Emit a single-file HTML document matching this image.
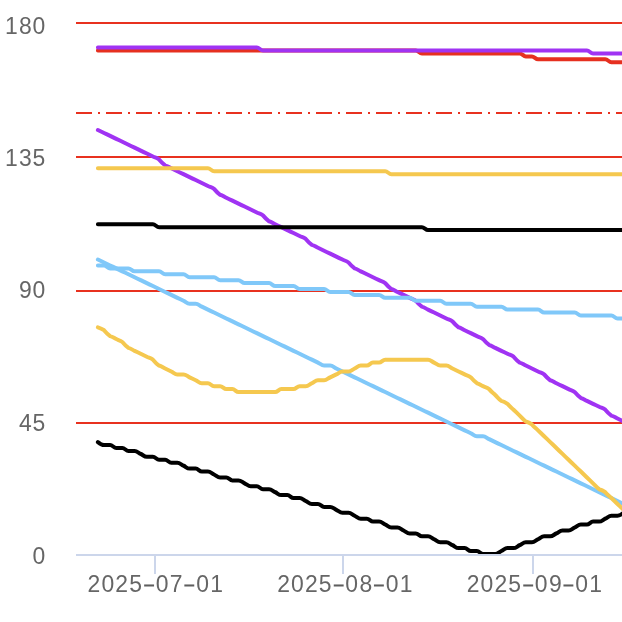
<!DOCTYPE html>
<html><head><meta charset="utf-8"><title>chart</title>
<style>html,body{margin:0;padding:0;background:#fff;}svg{display:block;will-change:transform;}</style></head>
<body>
<svg width="622" height="622" viewBox="0 0 622 622">
<rect width="622" height="622" fill="#ffffff"/>
<defs><clipPath id="c"><rect x="76" y="0" width="560" height="554"/></clipPath></defs>
<path d="M76,23 L640,23" stroke="#e8311f" stroke-width="2" fill="none"/>
<path d="M76,157 L640,157" stroke="#e8311f" stroke-width="2" fill="none"/>
<path d="M76,291 L640,291" stroke="#e8311f" stroke-width="2" fill="none"/>
<path d="M76,423 L640,423" stroke="#e8311f" stroke-width="2" fill="none"/>
<path d="M76,113 L640,113" stroke="#e8311f" stroke-width="2" stroke-dasharray="16,6,2,6" fill="none"/>
<path d="M76,555 L640,555" stroke="#ccd6eb" stroke-width="2" fill="none"/>
<path d="M155,554 L155,574" stroke="#ccd6eb" stroke-width="2" fill="none"/>
<path d="M343,554 L343,574" stroke="#ccd6eb" stroke-width="2" fill="none"/>
<path d="M533,554 L533,574" stroke="#ccd6eb" stroke-width="2" fill="none"/>
<g clip-path="url(#c)" fill="none" stroke-width="4" stroke-linejoin="round" stroke-linecap="round">
<path d="M97.90,50.51C97.90,50.51 101.57,50.51 104.01,50.51C106.46,50.51 107.68,50.51 110.13,50.51C112.57,50.51 113.79,50.51 116.24,50.51C118.68,50.51 119.91,50.51 122.35,50.51C124.80,50.51 126.02,50.51 128.47,50.51C130.91,50.51 132.13,50.51 134.58,50.51C137.02,50.51 138.25,50.51 140.69,50.51C143.14,50.51 144.36,50.51 146.80,50.51C149.25,50.51 150.47,50.51 152.92,50.51C155.36,50.51 156.58,50.51 159.03,50.51C161.48,50.51 162.70,50.51 165.14,50.51C167.59,50.51 168.81,50.51 171.26,50.51C173.70,50.51 174.92,50.51 177.37,50.51C179.81,50.51 181.04,50.51 183.48,50.51C185.93,50.51 187.15,50.51 189.60,50.51C192.04,50.51 193.26,50.51 195.71,50.51C198.15,50.51 199.38,50.51 201.82,50.51C204.27,50.51 205.49,50.51 207.93,50.51C210.38,50.51 211.60,50.51 214.05,50.51C216.49,50.51 217.71,50.51 220.16,50.51C222.61,50.51 223.83,50.51 226.27,50.51C228.72,50.51 229.94,50.51 232.39,50.51C234.83,50.51 236.05,50.51 238.50,50.51C240.94,50.51 242.17,50.51 244.61,50.51C247.06,50.51 248.28,50.51 250.73,50.51C253.17,50.51 254.39,50.51 256.84,50.51C259.28,50.51 260.51,50.51 262.95,50.51C265.40,50.51 266.62,50.51 269.06,50.51C271.51,50.51 272.73,50.51 275.18,50.51C277.62,50.51 278.84,50.51 281.29,50.51C283.74,50.51 284.96,50.51 287.40,50.51C289.85,50.51 291.07,50.51 293.52,50.51C295.96,50.51 297.18,50.51 299.63,50.51C302.07,50.51 303.30,50.51 305.74,50.51C308.19,50.51 309.41,50.51 311.86,50.51C314.30,50.51 315.52,50.51 317.97,50.51C320.41,50.51 321.64,50.51 324.08,50.51C326.53,50.51 327.75,50.51 330.19,50.51C332.64,50.51 333.86,50.51 336.31,50.51C338.75,50.51 339.97,50.51 342.42,50.51C344.87,50.51 346.09,50.51 348.53,50.51C350.98,50.51 352.20,50.51 354.65,50.51C357.09,50.51 358.31,50.51 360.76,50.51C363.20,50.51 364.43,50.51 366.87,50.51C369.32,50.51 370.54,50.51 372.99,50.51C375.43,50.51 376.65,50.51 379.10,50.51C381.54,50.51 382.77,50.51 385.21,50.51C387.66,50.51 388.88,50.51 391.32,50.51C393.77,50.51 394.99,50.51 397.44,50.51C399.88,50.51 401.10,50.51 403.55,50.51C406.00,50.51 407.22,50.51 409.66,50.51C412.11,50.51 413.33,50.51 415.78,50.51C418.22,50.51 419.44,53.45 421.89,53.45C424.33,53.45 425.56,53.45 428.00,53.45C430.45,53.45 431.67,53.45 434.12,53.45C436.56,53.45 437.78,53.45 440.23,53.45C442.67,53.45 443.90,53.45 446.34,53.45C448.79,53.45 450.01,53.45 452.45,53.45C454.90,53.45 456.12,53.45 458.57,53.45C461.01,53.45 462.23,53.45 464.68,53.45C467.13,53.45 468.35,53.45 470.79,53.45C473.24,53.45 474.46,53.45 476.91,53.45C479.35,53.45 480.57,53.45 483.02,53.45C485.46,53.45 486.69,53.45 489.13,53.45C491.58,53.45 492.80,53.45 495.25,53.45C497.69,53.45 498.91,53.45 501.36,53.45C503.80,53.45 505.03,53.45 507.47,53.45C509.92,53.45 511.14,53.45 513.58,53.45C516.03,53.45 517.25,53.45 519.70,53.45C522.14,53.45 523.36,56.40 525.81,56.40C528.26,56.40 529.48,56.40 531.92,56.40C534.37,56.40 535.59,59.34 538.04,59.34C540.48,59.34 541.70,59.34 544.15,59.34C546.59,59.34 547.82,59.34 550.26,59.34C552.71,59.34 553.93,59.34 556.38,59.34C558.82,59.34 560.04,59.34 562.49,59.34C564.93,59.34 566.16,59.34 568.60,59.34C571.05,59.34 572.27,59.34 574.71,59.34C577.16,59.34 578.38,59.34 580.83,59.34C583.27,59.34 584.49,59.34 586.94,59.34C589.39,59.34 590.61,59.34 593.05,59.34C595.50,59.34 596.72,59.34 599.17,59.34C601.61,59.34 602.83,59.34 605.28,59.34C607.72,59.34 608.95,62.29 611.39,62.29C613.84,62.29 615.06,62.29 617.50,62.29C619.95,62.29 623.62,62.29 623.62,62.29" stroke="#e63020"/>
<path d="M97.90,47.56C97.90,47.56 101.57,47.56 104.01,47.56C106.46,47.56 107.68,47.56 110.13,47.56C112.57,47.56 113.79,47.56 116.24,47.56C118.68,47.56 119.91,47.56 122.35,47.56C124.80,47.56 126.02,47.56 128.47,47.56C130.91,47.56 132.13,47.56 134.58,47.56C137.02,47.56 138.25,47.56 140.69,47.56C143.14,47.56 144.36,47.56 146.80,47.56C149.25,47.56 150.47,47.56 152.92,47.56C155.36,47.56 156.58,47.56 159.03,47.56C161.48,47.56 162.70,47.56 165.14,47.56C167.59,47.56 168.81,47.56 171.26,47.56C173.70,47.56 174.92,47.56 177.37,47.56C179.81,47.56 181.04,47.56 183.48,47.56C185.93,47.56 187.15,47.56 189.60,47.56C192.04,47.56 193.26,47.56 195.71,47.56C198.15,47.56 199.38,47.56 201.82,47.56C204.27,47.56 205.49,47.56 207.93,47.56C210.38,47.56 211.60,47.56 214.05,47.56C216.49,47.56 217.71,47.56 220.16,47.56C222.61,47.56 223.83,47.56 226.27,47.56C228.72,47.56 229.94,47.56 232.39,47.56C234.83,47.56 236.05,47.56 238.50,47.56C240.94,47.56 242.17,47.56 244.61,47.56C247.06,47.56 248.28,47.56 250.73,47.56C253.17,47.56 254.39,47.56 256.84,47.56C259.28,47.56 260.51,50.51 262.95,50.51C265.40,50.51 266.62,50.51 269.06,50.51C271.51,50.51 272.73,50.51 275.18,50.51C277.62,50.51 278.84,50.51 281.29,50.51C283.74,50.51 284.96,50.51 287.40,50.51C289.85,50.51 291.07,50.51 293.52,50.51C295.96,50.51 297.18,50.51 299.63,50.51C302.07,50.51 303.30,50.51 305.74,50.51C308.19,50.51 309.41,50.51 311.86,50.51C314.30,50.51 315.52,50.51 317.97,50.51C320.41,50.51 321.64,50.51 324.08,50.51C326.53,50.51 327.75,50.51 330.19,50.51C332.64,50.51 333.86,50.51 336.31,50.51C338.75,50.51 339.97,50.51 342.42,50.51C344.87,50.51 346.09,50.51 348.53,50.51C350.98,50.51 352.20,50.51 354.65,50.51C357.09,50.51 358.31,50.51 360.76,50.51C363.20,50.51 364.43,50.51 366.87,50.51C369.32,50.51 370.54,50.51 372.99,50.51C375.43,50.51 376.65,50.51 379.10,50.51C381.54,50.51 382.77,50.51 385.21,50.51C387.66,50.51 388.88,50.51 391.32,50.51C393.77,50.51 394.99,50.51 397.44,50.51C399.88,50.51 401.10,50.51 403.55,50.51C406.00,50.51 407.22,50.51 409.66,50.51C412.11,50.51 413.33,50.51 415.78,50.51C418.22,50.51 419.44,50.51 421.89,50.51C424.33,50.51 425.56,50.51 428.00,50.51C430.45,50.51 431.67,50.51 434.12,50.51C436.56,50.51 437.78,50.51 440.23,50.51C442.67,50.51 443.90,50.51 446.34,50.51C448.79,50.51 450.01,50.51 452.45,50.51C454.90,50.51 456.12,50.51 458.57,50.51C461.01,50.51 462.23,50.51 464.68,50.51C467.13,50.51 468.35,50.51 470.79,50.51C473.24,50.51 474.46,50.51 476.91,50.51C479.35,50.51 480.57,50.51 483.02,50.51C485.46,50.51 486.69,50.51 489.13,50.51C491.58,50.51 492.80,50.51 495.25,50.51C497.69,50.51 498.91,50.51 501.36,50.51C503.80,50.51 505.03,50.51 507.47,50.51C509.92,50.51 511.14,50.51 513.58,50.51C516.03,50.51 517.25,50.51 519.70,50.51C522.14,50.51 523.36,50.51 525.81,50.51C528.26,50.51 529.48,50.51 531.92,50.51C534.37,50.51 535.59,50.51 538.04,50.51C540.48,50.51 541.70,50.51 544.15,50.51C546.59,50.51 547.82,50.51 550.26,50.51C552.71,50.51 553.93,50.51 556.38,50.51C558.82,50.51 560.04,50.51 562.49,50.51C564.93,50.51 566.16,50.51 568.60,50.51C571.05,50.51 572.27,50.51 574.71,50.51C577.16,50.51 578.38,50.51 580.83,50.51C583.27,50.51 584.49,50.51 586.94,50.51C589.39,50.51 590.61,53.45 593.05,53.45C595.50,53.45 596.72,53.45 599.17,53.45C601.61,53.45 602.83,53.45 605.28,53.45C607.72,53.45 608.95,53.45 611.39,53.45C613.84,53.45 615.06,53.45 617.50,53.45C619.95,53.45 623.62,53.45 623.62,53.45" stroke="#a033f3"/>
<path d="M97.90,130.01C97.90,130.01 101.57,131.77 104.01,132.95C106.46,134.13 107.68,134.72 110.13,135.90C112.57,137.07 113.79,137.66 116.24,138.84C118.68,140.02 119.91,140.61 122.35,141.78C124.80,142.96 126.02,143.55 128.47,144.73C130.91,145.91 132.13,146.50 134.58,147.67C137.02,148.85 138.25,149.44 140.69,150.62C143.14,151.79 144.36,152.38 146.80,153.56C149.25,154.74 150.47,155.33 152.92,156.51C155.36,157.68 156.58,157.68 159.03,159.45C161.48,162.39 162.70,163.57 165.14,165.34C167.59,165.93 168.81,167.11 171.26,168.28C173.70,169.46 174.92,170.05 177.37,171.23C179.81,172.41 181.04,172.99 183.48,174.17C185.93,175.35 187.15,175.94 189.60,177.12C192.04,178.29 193.26,178.88 195.71,180.06C198.15,181.24 199.38,181.83 201.82,183.01C204.27,184.18 205.49,184.77 207.93,185.95C210.38,187.13 211.60,187.13 214.05,188.89C216.49,191.84 217.71,193.02 220.16,194.78C222.61,195.37 223.83,196.55 226.27,197.73C228.72,198.91 229.94,199.49 232.39,200.67C234.83,201.85 236.05,202.44 238.50,203.62C240.94,204.79 242.17,205.38 244.61,206.56C247.06,207.74 248.28,208.33 250.73,209.51C253.17,210.68 254.39,211.27 256.84,212.45C259.28,213.63 260.51,213.63 262.95,215.39C265.40,218.34 266.62,219.52 269.06,221.28C271.51,221.87 272.73,223.05 275.18,224.23C277.62,225.40 278.84,225.99 281.29,227.17C283.74,228.35 284.96,228.94 287.40,230.12C289.85,231.29 291.07,231.88 293.52,233.06C295.96,234.24 297.18,234.83 299.63,236.00C302.07,237.18 303.30,237.18 305.74,238.95C308.19,241.89 309.41,243.07 311.86,244.84C314.30,245.43 315.52,246.60 317.97,247.78C320.41,248.96 321.64,249.55 324.08,250.73C326.53,251.90 327.75,252.49 330.19,253.67C332.64,254.85 333.86,255.44 336.31,256.62C338.75,257.79 339.97,258.38 342.42,259.56C344.87,260.74 346.09,260.74 348.53,262.50C350.98,265.45 352.20,266.63 354.65,268.39C357.09,268.98 358.31,270.16 360.76,271.34C363.20,272.52 364.43,273.10 366.87,274.28C369.32,275.46 370.54,276.05 372.99,277.23C375.43,278.40 376.65,278.99 379.10,280.17C381.54,281.35 382.77,281.35 385.21,283.12C387.66,286.06 388.88,287.24 391.32,289.00C393.77,289.59 394.99,290.77 397.44,291.95C399.88,293.13 401.10,293.72 403.55,294.89C406.00,296.07 407.22,296.66 409.66,297.84C412.11,299.01 413.33,299.01 415.78,300.78C418.22,303.73 419.44,304.90 421.89,306.67C424.33,307.26 425.56,308.44 428.00,309.61C430.45,310.79 431.67,311.38 434.12,312.56C436.56,313.74 437.78,314.33 440.23,315.50C442.67,316.68 443.90,317.27 446.34,318.45C448.79,319.63 450.01,319.63 452.45,321.39C454.90,324.34 456.12,325.51 458.57,327.28C461.01,327.87 462.23,329.05 464.68,330.23C467.13,331.40 468.35,331.99 470.79,333.17C473.24,334.35 474.46,334.94 476.91,336.11C479.35,337.29 480.57,337.29 483.02,339.06C485.46,342.00 486.69,343.18 489.13,344.95C491.58,345.54 492.80,346.71 495.25,347.89C497.69,349.07 498.91,349.66 501.36,350.84C503.80,352.01 505.03,352.60 507.47,353.78C509.92,354.96 511.14,354.96 513.58,356.73C516.03,359.67 517.25,360.85 519.70,362.61C522.14,363.20 523.36,364.38 525.81,365.56C528.26,366.74 529.48,367.33 531.92,368.50C534.37,369.68 535.59,370.27 538.04,371.45C540.48,372.62 541.70,372.62 544.15,374.39C546.59,377.34 547.82,378.51 550.26,380.28C552.71,380.87 553.93,382.05 556.38,383.22C558.82,384.40 560.04,384.99 562.49,386.17C564.93,387.35 566.16,387.94 568.60,389.11C571.05,390.29 572.27,390.29 574.71,392.06C577.16,395.00 578.38,396.18 580.83,397.95C583.27,398.54 584.49,399.71 586.94,400.89C589.39,402.07 590.61,402.66 593.05,403.84C595.50,405.01 596.72,405.60 599.17,406.78C601.61,407.96 602.83,407.96 605.28,409.72C607.72,412.67 608.95,413.85 611.39,415.61C613.84,416.20 615.06,417.38 617.50,418.56C619.95,419.74 623.62,421.50 623.62,421.50" stroke="#a033f3"/>
<path d="M97.90,265.45C97.90,265.45 101.57,265.45 104.01,265.45C106.46,265.45 107.68,268.39 110.13,268.39C112.57,268.39 113.79,268.39 116.24,268.39C118.68,268.39 119.91,268.39 122.35,268.39C124.80,268.39 126.02,268.39 128.47,268.39C130.91,268.39 132.13,271.34 134.58,271.34C137.02,271.34 138.25,271.34 140.69,271.34C143.14,271.34 144.36,271.34 146.80,271.34C149.25,271.34 150.47,271.34 152.92,271.34C155.36,271.34 156.58,271.34 159.03,271.34C161.48,271.34 162.70,274.28 165.14,274.28C167.59,274.28 168.81,274.28 171.26,274.28C173.70,274.28 174.92,274.28 177.37,274.28C179.81,274.28 181.04,274.28 183.48,274.28C185.93,274.28 187.15,277.23 189.60,277.23C192.04,277.23 193.26,277.23 195.71,277.23C198.15,277.23 199.38,277.23 201.82,277.23C204.27,277.23 205.49,277.23 207.93,277.23C210.38,277.23 211.60,277.23 214.05,277.23C216.49,277.23 217.71,280.17 220.16,280.17C222.61,280.17 223.83,280.17 226.27,280.17C228.72,280.17 229.94,280.17 232.39,280.17C234.83,280.17 236.05,280.17 238.50,280.17C240.94,280.17 242.17,283.12 244.61,283.12C247.06,283.12 248.28,283.12 250.73,283.12C253.17,283.12 254.39,283.12 256.84,283.12C259.28,283.12 260.51,283.12 262.95,283.12C265.40,283.12 266.62,283.12 269.06,283.12C271.51,283.12 272.73,286.06 275.18,286.06C277.62,286.06 278.84,286.06 281.29,286.06C283.74,286.06 284.96,286.06 287.40,286.06C289.85,286.06 291.07,286.06 293.52,286.06C295.96,286.06 297.18,289.00 299.63,289.00C302.07,289.00 303.30,289.00 305.74,289.00C308.19,289.00 309.41,289.00 311.86,289.00C314.30,289.00 315.52,289.00 317.97,289.00C320.41,289.00 321.64,289.00 324.08,289.00C326.53,289.00 327.75,291.95 330.19,291.95C332.64,291.95 333.86,291.95 336.31,291.95C338.75,291.95 339.97,291.95 342.42,291.95C344.87,291.95 346.09,291.95 348.53,291.95C350.98,291.95 352.20,294.89 354.65,294.89C357.09,294.89 358.31,294.89 360.76,294.89C363.20,294.89 364.43,294.89 366.87,294.89C369.32,294.89 370.54,294.89 372.99,294.89C375.43,294.89 376.65,294.89 379.10,294.89C381.54,294.89 382.77,297.84 385.21,297.84C387.66,297.84 388.88,297.84 391.32,297.84C393.77,297.84 394.99,297.84 397.44,297.84C399.88,297.84 401.10,297.84 403.55,297.84C406.00,297.84 407.22,297.84 409.66,297.84C412.11,297.84 413.33,300.78 415.78,300.78C418.22,300.78 419.44,300.78 421.89,300.78C424.33,300.78 425.56,300.78 428.00,300.78C430.45,300.78 431.67,300.78 434.12,300.78C436.56,300.78 437.78,300.78 440.23,300.78C442.67,300.78 443.90,303.73 446.34,303.73C448.79,303.73 450.01,303.73 452.45,303.73C454.90,303.73 456.12,303.73 458.57,303.73C461.01,303.73 462.23,303.73 464.68,303.73C467.13,303.73 468.35,303.73 470.79,303.73C473.24,303.73 474.46,306.67 476.91,306.67C479.35,306.67 480.57,306.67 483.02,306.67C485.46,306.67 486.69,306.67 489.13,306.67C491.58,306.67 492.80,306.67 495.25,306.67C497.69,306.67 498.91,306.67 501.36,306.67C503.80,306.67 505.03,309.61 507.47,309.61C509.92,309.61 511.14,309.61 513.58,309.61C516.03,309.61 517.25,309.61 519.70,309.61C522.14,309.61 523.36,309.61 525.81,309.61C528.26,309.61 529.48,309.61 531.92,309.61C534.37,309.61 535.59,309.61 538.04,309.61C540.48,309.61 541.70,312.56 544.15,312.56C546.59,312.56 547.82,312.56 550.26,312.56C552.71,312.56 553.93,312.56 556.38,312.56C558.82,312.56 560.04,312.56 562.49,312.56C564.93,312.56 566.16,312.56 568.60,312.56C571.05,312.56 572.27,312.56 574.71,312.56C577.16,312.56 578.38,315.50 580.83,315.50C583.27,315.50 584.49,315.50 586.94,315.50C589.39,315.50 590.61,315.50 593.05,315.50C595.50,315.50 596.72,315.50 599.17,315.50C601.61,315.50 602.83,315.50 605.28,315.50C607.72,315.50 608.95,315.50 611.39,315.50C613.84,315.50 615.06,318.45 617.50,318.45C619.95,318.45 623.62,318.45 623.62,318.45" stroke="#80c8f9"/>
<path d="M97.90,259.56C97.90,259.56 101.57,261.33 104.01,262.50C106.46,263.68 107.68,264.27 110.13,265.45C112.57,266.63 113.79,267.22 116.24,268.39C118.68,269.57 119.91,270.16 122.35,271.34C124.80,272.52 126.02,273.10 128.47,274.28C130.91,275.46 132.13,276.05 134.58,277.23C137.02,278.40 138.25,278.99 140.69,280.17C143.14,281.35 144.36,281.94 146.80,283.12C149.25,284.29 150.47,284.88 152.92,286.06C155.36,287.24 156.58,287.83 159.03,289.00C161.48,290.18 162.70,290.77 165.14,291.95C167.59,293.13 168.81,293.72 171.26,294.89C173.70,296.07 174.92,296.66 177.37,297.84C179.81,299.01 181.04,299.60 183.48,300.78C185.93,301.96 187.15,303.73 189.60,303.73C192.04,303.73 193.26,303.73 195.71,303.73C198.15,303.73 199.38,305.49 201.82,306.67C204.27,307.85 205.49,308.44 207.93,309.61C210.38,310.79 211.60,311.38 214.05,312.56C216.49,313.74 217.71,314.33 220.16,315.50C222.61,316.68 223.83,317.27 226.27,318.45C228.72,319.63 229.94,320.21 232.39,321.39C234.83,322.57 236.05,323.16 238.50,324.34C240.94,325.51 242.17,326.10 244.61,327.28C247.06,328.46 248.28,329.05 250.73,330.23C253.17,331.40 254.39,331.99 256.84,333.17C259.28,334.35 260.51,334.94 262.95,336.11C265.40,337.29 266.62,337.88 269.06,339.06C271.51,340.24 272.73,340.83 275.18,342.00C277.62,343.18 278.84,343.77 281.29,344.95C283.74,346.13 284.96,346.71 287.40,347.89C289.85,349.07 291.07,349.66 293.52,350.84C295.96,352.01 297.18,352.60 299.63,353.78C302.07,354.96 303.30,355.55 305.74,356.73C308.19,357.90 309.41,358.49 311.86,359.67C314.30,360.85 315.52,361.44 317.97,362.61C320.41,363.79 321.64,365.56 324.08,365.56C326.53,365.56 327.75,365.56 330.19,365.56C332.64,365.56 333.86,367.33 336.31,368.50C338.75,369.68 339.97,370.27 342.42,371.45C344.87,372.62 346.09,373.21 348.53,374.39C350.98,375.57 352.20,376.16 354.65,377.34C357.09,378.51 358.31,379.10 360.76,380.28C363.20,381.46 364.43,382.05 366.87,383.22C369.32,384.40 370.54,384.99 372.99,386.17C375.43,387.35 376.65,387.94 379.10,389.11C381.54,390.29 382.77,390.88 385.21,392.06C387.66,393.24 388.88,393.82 391.32,395.00C393.77,396.18 394.99,396.77 397.44,397.95C399.88,399.12 401.10,399.71 403.55,400.89C406.00,402.07 407.22,402.66 409.66,403.84C412.11,405.01 413.33,405.60 415.78,406.78C418.22,407.96 419.44,408.55 421.89,409.72C424.33,410.90 425.56,411.49 428.00,412.67C430.45,413.85 431.67,414.44 434.12,415.61C436.56,416.79 437.78,417.38 440.23,418.56C442.67,419.74 443.90,420.32 446.34,421.50C448.79,422.68 450.01,423.27 452.45,424.45C454.90,425.62 456.12,426.21 458.57,427.39C461.01,428.57 462.23,429.16 464.68,430.34C467.13,431.51 468.35,432.10 470.79,433.28C473.24,434.46 474.46,436.22 476.91,436.22C479.35,436.22 480.57,436.22 483.02,436.22C485.46,436.22 486.69,437.99 489.13,439.17C491.58,440.35 492.80,440.94 495.25,442.11C497.69,443.29 498.91,443.88 501.36,445.06C503.80,446.23 505.03,446.82 507.47,448.00C509.92,449.18 511.14,449.77 513.58,450.95C516.03,452.12 517.25,452.71 519.70,453.89C522.14,455.07 523.36,455.66 525.81,456.83C528.26,458.01 529.48,458.60 531.92,459.78C534.37,460.96 535.59,461.55 538.04,462.72C540.48,463.90 541.70,464.49 544.15,465.67C546.59,466.85 547.82,467.43 550.26,468.61C552.71,469.79 553.93,470.38 556.38,471.56C558.82,472.73 560.04,473.32 562.49,474.50C564.93,475.68 566.16,476.27 568.60,477.45C571.05,478.62 572.27,479.21 574.71,480.39C577.16,481.57 578.38,482.16 580.83,483.33C583.27,484.51 584.49,485.10 586.94,486.28C589.39,487.46 590.61,488.05 593.05,489.22C595.50,490.40 596.72,490.99 599.17,492.17C601.61,493.35 602.83,493.93 605.28,495.11C607.72,496.29 608.95,496.88 611.39,498.06C613.84,499.23 615.06,499.82 617.50,501.00C619.95,502.18 623.62,503.95 623.62,503.95" stroke="#80c8f9"/>
<path d="M97.90,168.28C97.90,168.28 101.57,168.28 104.01,168.28C106.46,168.28 107.68,168.28 110.13,168.28C112.57,168.28 113.79,168.28 116.24,168.28C118.68,168.28 119.91,168.28 122.35,168.28C124.80,168.28 126.02,168.28 128.47,168.28C130.91,168.28 132.13,168.28 134.58,168.28C137.02,168.28 138.25,168.28 140.69,168.28C143.14,168.28 144.36,168.28 146.80,168.28C149.25,168.28 150.47,168.28 152.92,168.28C155.36,168.28 156.58,168.28 159.03,168.28C161.48,168.28 162.70,168.28 165.14,168.28C167.59,168.28 168.81,168.28 171.26,168.28C173.70,168.28 174.92,168.28 177.37,168.28C179.81,168.28 181.04,168.28 183.48,168.28C185.93,168.28 187.15,168.28 189.60,168.28C192.04,168.28 193.26,168.28 195.71,168.28C198.15,168.28 199.38,168.28 201.82,168.28C204.27,168.28 205.49,168.28 207.93,168.28C210.38,168.28 211.60,171.23 214.05,171.23C216.49,171.23 217.71,171.23 220.16,171.23C222.61,171.23 223.83,171.23 226.27,171.23C228.72,171.23 229.94,171.23 232.39,171.23C234.83,171.23 236.05,171.23 238.50,171.23C240.94,171.23 242.17,171.23 244.61,171.23C247.06,171.23 248.28,171.23 250.73,171.23C253.17,171.23 254.39,171.23 256.84,171.23C259.28,171.23 260.51,171.23 262.95,171.23C265.40,171.23 266.62,171.23 269.06,171.23C271.51,171.23 272.73,171.23 275.18,171.23C277.62,171.23 278.84,171.23 281.29,171.23C283.74,171.23 284.96,171.23 287.40,171.23C289.85,171.23 291.07,171.23 293.52,171.23C295.96,171.23 297.18,171.23 299.63,171.23C302.07,171.23 303.30,171.23 305.74,171.23C308.19,171.23 309.41,171.23 311.86,171.23C314.30,171.23 315.52,171.23 317.97,171.23C320.41,171.23 321.64,171.23 324.08,171.23C326.53,171.23 327.75,171.23 330.19,171.23C332.64,171.23 333.86,171.23 336.31,171.23C338.75,171.23 339.97,171.23 342.42,171.23C344.87,171.23 346.09,171.23 348.53,171.23C350.98,171.23 352.20,171.23 354.65,171.23C357.09,171.23 358.31,171.23 360.76,171.23C363.20,171.23 364.43,171.23 366.87,171.23C369.32,171.23 370.54,171.23 372.99,171.23C375.43,171.23 376.65,171.23 379.10,171.23C381.54,171.23 382.77,171.23 385.21,171.23C387.66,171.23 388.88,174.17 391.32,174.17C393.77,174.17 394.99,174.17 397.44,174.17C399.88,174.17 401.10,174.17 403.55,174.17C406.00,174.17 407.22,174.17 409.66,174.17C412.11,174.17 413.33,174.17 415.78,174.17C418.22,174.17 419.44,174.17 421.89,174.17C424.33,174.17 425.56,174.17 428.00,174.17C430.45,174.17 431.67,174.17 434.12,174.17C436.56,174.17 437.78,174.17 440.23,174.17C442.67,174.17 443.90,174.17 446.34,174.17C448.79,174.17 450.01,174.17 452.45,174.17C454.90,174.17 456.12,174.17 458.57,174.17C461.01,174.17 462.23,174.17 464.68,174.17C467.13,174.17 468.35,174.17 470.79,174.17C473.24,174.17 474.46,174.17 476.91,174.17C479.35,174.17 480.57,174.17 483.02,174.17C485.46,174.17 486.69,174.17 489.13,174.17C491.58,174.17 492.80,174.17 495.25,174.17C497.69,174.17 498.91,174.17 501.36,174.17C503.80,174.17 505.03,174.17 507.47,174.17C509.92,174.17 511.14,174.17 513.58,174.17C516.03,174.17 517.25,174.17 519.70,174.17C522.14,174.17 523.36,174.17 525.81,174.17C528.26,174.17 529.48,174.17 531.92,174.17C534.37,174.17 535.59,174.17 538.04,174.17C540.48,174.17 541.70,174.17 544.15,174.17C546.59,174.17 547.82,174.17 550.26,174.17C552.71,174.17 553.93,174.17 556.38,174.17C558.82,174.17 560.04,174.17 562.49,174.17C564.93,174.17 566.16,174.17 568.60,174.17C571.05,174.17 572.27,174.17 574.71,174.17C577.16,174.17 578.38,174.17 580.83,174.17C583.27,174.17 584.49,174.17 586.94,174.17C589.39,174.17 590.61,174.17 593.05,174.17C595.50,174.17 596.72,174.17 599.17,174.17C601.61,174.17 602.83,174.17 605.28,174.17C607.72,174.17 608.95,174.17 611.39,174.17C613.84,174.17 615.06,174.17 617.50,174.17C619.95,174.17 623.62,174.17 623.62,174.17" stroke="#f5c84f"/>
<path d="M97.90,327.28C97.90,327.28 101.57,328.46 104.01,330.23C106.46,333.17 107.68,334.35 110.13,336.11C112.57,336.70 113.79,337.88 116.24,339.06C118.68,340.24 119.91,340.24 122.35,342.00C124.80,344.95 126.02,346.13 128.47,347.89C130.91,348.48 132.13,349.66 134.58,350.84C137.02,352.01 138.25,352.60 140.69,353.78C143.14,354.96 144.36,355.55 146.80,356.73C149.25,357.90 150.47,357.90 152.92,359.67C155.36,362.61 156.58,363.79 159.03,365.56C161.48,366.15 162.70,367.33 165.14,368.50C167.59,369.68 168.81,370.27 171.26,371.45C173.70,372.62 174.92,374.39 177.37,374.39C179.81,374.39 181.04,374.39 183.48,374.39C185.93,374.39 187.15,376.16 189.60,377.34C192.04,378.51 193.26,379.10 195.71,380.28C198.15,381.46 199.38,383.22 201.82,383.22C204.27,383.22 205.49,383.22 207.93,383.22C210.38,383.22 211.60,386.17 214.05,386.17C216.49,386.17 217.71,386.17 220.16,386.17C222.61,386.17 223.83,389.11 226.27,389.11C228.72,389.11 229.94,389.11 232.39,389.11C234.83,389.11 236.05,392.06 238.50,392.06C240.94,392.06 242.17,392.06 244.61,392.06C247.06,392.06 248.28,392.06 250.73,392.06C253.17,392.06 254.39,392.06 256.84,392.06C259.28,392.06 260.51,392.06 262.95,392.06C265.40,392.06 266.62,392.06 269.06,392.06C271.51,392.06 272.73,392.06 275.18,392.06C277.62,392.06 278.84,389.11 281.29,389.11C283.74,389.11 284.96,389.11 287.40,389.11C289.85,389.11 291.07,389.11 293.52,389.11C295.96,389.11 297.18,386.17 299.63,386.17C302.07,386.17 303.30,386.17 305.74,386.17C308.19,386.17 309.41,384.40 311.86,383.22C314.30,382.05 315.52,380.28 317.97,380.28C320.41,380.28 321.64,380.28 324.08,380.28C326.53,380.28 327.75,378.51 330.19,377.34C332.64,376.16 333.86,375.57 336.31,374.39C338.75,373.21 339.97,371.45 342.42,371.45C344.87,371.45 346.09,371.45 348.53,371.45C350.98,371.45 352.20,369.68 354.65,368.50C357.09,367.33 358.31,365.56 360.76,365.56C363.20,365.56 364.43,365.56 366.87,365.56C369.32,365.56 370.54,362.61 372.99,362.61C375.43,362.61 376.65,362.61 379.10,362.61C381.54,362.61 382.77,359.67 385.21,359.67C387.66,359.67 388.88,359.67 391.32,359.67C393.77,359.67 394.99,359.67 397.44,359.67C399.88,359.67 401.10,359.67 403.55,359.67C406.00,359.67 407.22,359.67 409.66,359.67C412.11,359.67 413.33,359.67 415.78,359.67C418.22,359.67 419.44,359.67 421.89,359.67C424.33,359.67 425.56,359.67 428.00,359.67C430.45,359.67 431.67,361.44 434.12,362.61C436.56,363.79 437.78,365.56 440.23,365.56C442.67,365.56 443.90,365.56 446.34,365.56C448.79,365.56 450.01,367.33 452.45,368.50C454.90,369.68 456.12,370.27 458.57,371.45C461.01,372.62 462.23,373.21 464.68,374.39C467.13,375.57 468.35,375.57 470.79,377.34C473.24,380.28 474.46,381.46 476.91,383.22C479.35,383.81 480.57,384.99 483.02,386.17C485.46,387.35 486.69,387.35 489.13,389.11C491.58,392.06 492.80,392.65 495.25,395.00C497.69,397.36 498.91,399.12 501.36,400.89C503.80,401.48 505.03,402.07 507.47,403.84C509.92,406.78 511.14,407.37 513.58,409.72C516.03,412.08 517.25,413.26 519.70,415.61C522.14,417.97 523.36,419.74 525.81,421.50C528.26,422.09 529.48,422.68 531.92,424.45C534.37,427.39 535.59,427.98 538.04,430.34C540.48,432.69 541.70,433.87 544.15,436.22C546.59,438.58 547.82,439.76 550.26,442.11C552.71,444.47 553.93,445.65 556.38,448.00C558.82,450.36 560.04,451.53 562.49,453.89C564.93,456.25 566.16,457.42 568.60,459.78C571.05,462.13 572.27,463.31 574.71,465.67C577.16,468.02 578.38,469.20 580.83,471.56C583.27,473.91 584.49,475.09 586.94,477.45C589.39,479.80 590.61,480.98 593.05,483.33C595.50,485.69 596.72,487.46 599.17,489.22C601.61,489.81 602.83,490.40 605.28,492.17C607.72,495.11 608.95,495.70 611.39,498.06C613.84,500.41 615.06,501.59 617.50,503.95C619.95,506.30 623.62,509.83 623.62,509.83" stroke="#f5c84f"/>
<path d="M97.90,224.23C97.90,224.23 101.57,224.23 104.01,224.23C106.46,224.23 107.68,224.23 110.13,224.23C112.57,224.23 113.79,224.23 116.24,224.23C118.68,224.23 119.91,224.23 122.35,224.23C124.80,224.23 126.02,224.23 128.47,224.23C130.91,224.23 132.13,224.23 134.58,224.23C137.02,224.23 138.25,224.23 140.69,224.23C143.14,224.23 144.36,224.23 146.80,224.23C149.25,224.23 150.47,224.23 152.92,224.23C155.36,224.23 156.58,227.17 159.03,227.17C161.48,227.17 162.70,227.17 165.14,227.17C167.59,227.17 168.81,227.17 171.26,227.17C173.70,227.17 174.92,227.17 177.37,227.17C179.81,227.17 181.04,227.17 183.48,227.17C185.93,227.17 187.15,227.17 189.60,227.17C192.04,227.17 193.26,227.17 195.71,227.17C198.15,227.17 199.38,227.17 201.82,227.17C204.27,227.17 205.49,227.17 207.93,227.17C210.38,227.17 211.60,227.17 214.05,227.17C216.49,227.17 217.71,227.17 220.16,227.17C222.61,227.17 223.83,227.17 226.27,227.17C228.72,227.17 229.94,227.17 232.39,227.17C234.83,227.17 236.05,227.17 238.50,227.17C240.94,227.17 242.17,227.17 244.61,227.17C247.06,227.17 248.28,227.17 250.73,227.17C253.17,227.17 254.39,227.17 256.84,227.17C259.28,227.17 260.51,227.17 262.95,227.17C265.40,227.17 266.62,227.17 269.06,227.17C271.51,227.17 272.73,227.17 275.18,227.17C277.62,227.17 278.84,227.17 281.29,227.17C283.74,227.17 284.96,227.17 287.40,227.17C289.85,227.17 291.07,227.17 293.52,227.17C295.96,227.17 297.18,227.17 299.63,227.17C302.07,227.17 303.30,227.17 305.74,227.17C308.19,227.17 309.41,227.17 311.86,227.17C314.30,227.17 315.52,227.17 317.97,227.17C320.41,227.17 321.64,227.17 324.08,227.17C326.53,227.17 327.75,227.17 330.19,227.17C332.64,227.17 333.86,227.17 336.31,227.17C338.75,227.17 339.97,227.17 342.42,227.17C344.87,227.17 346.09,227.17 348.53,227.17C350.98,227.17 352.20,227.17 354.65,227.17C357.09,227.17 358.31,227.17 360.76,227.17C363.20,227.17 364.43,227.17 366.87,227.17C369.32,227.17 370.54,227.17 372.99,227.17C375.43,227.17 376.65,227.17 379.10,227.17C381.54,227.17 382.77,227.17 385.21,227.17C387.66,227.17 388.88,227.17 391.32,227.17C393.77,227.17 394.99,227.17 397.44,227.17C399.88,227.17 401.10,227.17 403.55,227.17C406.00,227.17 407.22,227.17 409.66,227.17C412.11,227.17 413.33,227.17 415.78,227.17C418.22,227.17 419.44,227.17 421.89,227.17C424.33,227.17 425.56,230.12 428.00,230.12C430.45,230.12 431.67,230.12 434.12,230.12C436.56,230.12 437.78,230.12 440.23,230.12C442.67,230.12 443.90,230.12 446.34,230.12C448.79,230.12 450.01,230.12 452.45,230.12C454.90,230.12 456.12,230.12 458.57,230.12C461.01,230.12 462.23,230.12 464.68,230.12C467.13,230.12 468.35,230.12 470.79,230.12C473.24,230.12 474.46,230.12 476.91,230.12C479.35,230.12 480.57,230.12 483.02,230.12C485.46,230.12 486.69,230.12 489.13,230.12C491.58,230.12 492.80,230.12 495.25,230.12C497.69,230.12 498.91,230.12 501.36,230.12C503.80,230.12 505.03,230.12 507.47,230.12C509.92,230.12 511.14,230.12 513.58,230.12C516.03,230.12 517.25,230.12 519.70,230.12C522.14,230.12 523.36,230.12 525.81,230.12C528.26,230.12 529.48,230.12 531.92,230.12C534.37,230.12 535.59,230.12 538.04,230.12C540.48,230.12 541.70,230.12 544.15,230.12C546.59,230.12 547.82,230.12 550.26,230.12C552.71,230.12 553.93,230.12 556.38,230.12C558.82,230.12 560.04,230.12 562.49,230.12C564.93,230.12 566.16,230.12 568.60,230.12C571.05,230.12 572.27,230.12 574.71,230.12C577.16,230.12 578.38,230.12 580.83,230.12C583.27,230.12 584.49,230.12 586.94,230.12C589.39,230.12 590.61,230.12 593.05,230.12C595.50,230.12 596.72,230.12 599.17,230.12C601.61,230.12 602.83,230.12 605.28,230.12C607.72,230.12 608.95,230.12 611.39,230.12C613.84,230.12 615.06,230.12 617.50,230.12C619.95,230.12 623.62,230.12 623.62,230.12" stroke="#000000"/>
<path d="M97.90,442.11C97.90,442.11 101.57,445.06 104.01,445.06C106.46,445.06 107.68,445.06 110.13,445.06C112.57,445.06 113.79,448.00 116.24,448.00C118.68,448.00 119.91,448.00 122.35,448.00C124.80,448.00 126.02,450.95 128.47,450.95C130.91,450.95 132.13,450.95 134.58,450.95C137.02,450.95 138.25,452.71 140.69,453.89C143.14,455.07 144.36,456.83 146.80,456.83C149.25,456.83 150.47,456.83 152.92,456.83C155.36,456.83 156.58,459.78 159.03,459.78C161.48,459.78 162.70,459.78 165.14,459.78C167.59,459.78 168.81,462.72 171.26,462.72C173.70,462.72 174.92,462.72 177.37,462.72C179.81,462.72 181.04,464.49 183.48,465.67C185.93,466.85 187.15,468.61 189.60,468.61C192.04,468.61 193.26,468.61 195.71,468.61C198.15,468.61 199.38,471.56 201.82,471.56C204.27,471.56 205.49,471.56 207.93,471.56C210.38,471.56 211.60,473.32 214.05,474.50C216.49,475.68 217.71,477.45 220.16,477.45C222.61,477.45 223.83,477.45 226.27,477.45C228.72,477.45 229.94,480.39 232.39,480.39C234.83,480.39 236.05,480.39 238.50,480.39C240.94,480.39 242.17,482.16 244.61,483.33C247.06,484.51 248.28,486.28 250.73,486.28C253.17,486.28 254.39,486.28 256.84,486.28C259.28,486.28 260.51,489.22 262.95,489.22C265.40,489.22 266.62,489.22 269.06,489.22C271.51,489.22 272.73,490.99 275.18,492.17C277.62,493.35 278.84,495.11 281.29,495.11C283.74,495.11 284.96,495.11 287.40,495.11C289.85,495.11 291.07,498.06 293.52,498.06C295.96,498.06 297.18,498.06 299.63,498.06C302.07,498.06 303.30,499.82 305.74,501.00C308.19,502.18 309.41,503.95 311.86,503.95C314.30,503.95 315.52,503.95 317.97,503.95C320.41,503.95 321.64,506.89 324.08,506.89C326.53,506.89 327.75,506.89 330.19,506.89C332.64,506.89 333.86,508.66 336.31,509.83C338.75,511.01 339.97,512.78 342.42,512.78C344.87,512.78 346.09,512.78 348.53,512.78C350.98,512.78 352.20,514.55 354.65,515.72C357.09,516.90 358.31,518.67 360.76,518.67C363.20,518.67 364.43,518.67 366.87,518.67C369.32,518.67 370.54,521.61 372.99,521.61C375.43,521.61 376.65,521.61 379.10,521.61C381.54,521.61 382.77,523.38 385.21,524.56C387.66,525.73 388.88,527.50 391.32,527.50C393.77,527.50 394.99,527.50 397.44,527.50C399.88,527.50 401.10,529.27 403.55,530.44C406.00,531.62 407.22,533.39 409.66,533.39C412.11,533.39 413.33,533.39 415.78,533.39C418.22,533.39 419.44,536.33 421.89,536.33C424.33,536.33 425.56,536.33 428.00,536.33C430.45,536.33 431.67,538.10 434.12,539.28C436.56,540.46 437.78,542.22 440.23,542.22C442.67,542.22 443.90,542.22 446.34,542.22C448.79,542.22 450.01,543.99 452.45,545.17C454.90,546.34 456.12,548.11 458.57,548.11C461.01,548.11 462.23,548.11 464.68,548.11C467.13,548.11 468.35,551.06 470.79,551.06C473.24,551.06 474.46,551.06 476.91,551.06C479.35,551.06 480.57,554.00 483.02,554.00C485.46,554.00 486.69,554.00 489.13,554.00C491.58,554.00 492.80,554.00 495.25,554.00C497.69,554.00 498.91,552.23 501.36,551.06C503.80,549.88 505.03,548.11 507.47,548.11C509.92,548.11 511.14,548.11 513.58,548.11C516.03,548.11 517.25,546.34 519.70,545.17C522.14,543.99 523.36,542.22 525.81,542.22C528.26,542.22 529.48,542.22 531.92,542.22C534.37,542.22 535.59,540.46 538.04,539.28C540.48,538.10 541.70,536.33 544.15,536.33C546.59,536.33 547.82,536.33 550.26,536.33C552.71,536.33 553.93,534.57 556.38,533.39C558.82,532.21 560.04,530.44 562.49,530.44C564.93,530.44 566.16,530.44 568.60,530.44C571.05,530.44 572.27,528.68 574.71,527.50C577.16,526.32 578.38,524.56 580.83,524.56C583.27,524.56 584.49,524.56 586.94,524.56C589.39,524.56 590.61,521.61 593.05,521.61C595.50,521.61 596.72,521.61 599.17,521.61C601.61,521.61 602.83,519.84 605.28,518.67C607.72,517.49 608.95,515.72 611.39,515.72C613.84,515.72 615.06,515.72 617.50,515.72C619.95,515.72 623.62,512.78 623.62,512.78" stroke="#000000"/>
</g>
<g font-family="'Liberation Sans', sans-serif" fill="#666666">
<text transform="translate(11.40,34.3) scale(0.94,1)" text-anchor="middle" font-size="24.4">1</text><text transform="translate(25.30,34.3) scale(0.94,1)" text-anchor="middle" font-size="24.4">8</text><text transform="translate(38.90,34.3) scale(0.94,1)" text-anchor="middle" font-size="24.4">0</text>
<text transform="translate(11.40,166.3) scale(0.94,1)" text-anchor="middle" font-size="24.4">1</text><text transform="translate(25.30,166.3) scale(0.94,1)" text-anchor="middle" font-size="24.4">3</text><text transform="translate(38.90,166.3) scale(0.94,1)" text-anchor="middle" font-size="24.4">5</text>
<text transform="translate(25.30,298.3) scale(0.94,1)" text-anchor="middle" font-size="24.4">9</text><text transform="translate(38.90,298.3) scale(0.94,1)" text-anchor="middle" font-size="24.4">0</text>
<text transform="translate(25.30,430.8) scale(0.94,1)" text-anchor="middle" font-size="24.4">4</text><text transform="translate(38.90,430.8) scale(0.94,1)" text-anchor="middle" font-size="24.4">5</text>
<text transform="translate(38.90,564.2) scale(0.94,1)" text-anchor="middle" font-size="24.4">0</text>
<text transform="translate(93.90,592.1) scale(0.94,1)" text-anchor="middle" font-size="24.4">2</text><text transform="translate(107.80,592.1) scale(0.94,1)" text-anchor="middle" font-size="24.4">0</text><text transform="translate(121.70,592.1) scale(0.94,1)" text-anchor="middle" font-size="24.4">2</text><text transform="translate(135.60,592.1) scale(0.94,1)" text-anchor="middle" font-size="24.4">5</text><text transform="translate(162.10,592.1) scale(0.94,1)" text-anchor="middle" font-size="24.4">0</text><text transform="translate(176.20,592.1) scale(0.94,1)" text-anchor="middle" font-size="24.4">7</text><text transform="translate(202.60,592.1) scale(0.94,1)" text-anchor="middle" font-size="24.4">0</text><text transform="translate(216.50,592.1) scale(0.94,1)" text-anchor="middle" font-size="24.4">1</text>
<text transform="translate(283.50,592.1) scale(0.94,1)" text-anchor="middle" font-size="24.4">2</text><text transform="translate(297.40,592.1) scale(0.94,1)" text-anchor="middle" font-size="24.4">0</text><text transform="translate(311.30,592.1) scale(0.94,1)" text-anchor="middle" font-size="24.4">2</text><text transform="translate(325.20,592.1) scale(0.94,1)" text-anchor="middle" font-size="24.4">5</text><text transform="translate(351.70,592.1) scale(0.94,1)" text-anchor="middle" font-size="24.4">0</text><text transform="translate(365.80,592.1) scale(0.94,1)" text-anchor="middle" font-size="24.4">8</text><text transform="translate(392.20,592.1) scale(0.94,1)" text-anchor="middle" font-size="24.4">0</text><text transform="translate(406.10,592.1) scale(0.94,1)" text-anchor="middle" font-size="24.4">1</text>
<text transform="translate(473.00,592.1) scale(0.94,1)" text-anchor="middle" font-size="24.4">2</text><text transform="translate(486.90,592.1) scale(0.94,1)" text-anchor="middle" font-size="24.4">0</text><text transform="translate(500.80,592.1) scale(0.94,1)" text-anchor="middle" font-size="24.4">2</text><text transform="translate(514.70,592.1) scale(0.94,1)" text-anchor="middle" font-size="24.4">5</text><text transform="translate(541.20,592.1) scale(0.94,1)" text-anchor="middle" font-size="24.4">0</text><text transform="translate(555.30,592.1) scale(0.94,1)" text-anchor="middle" font-size="24.4">9</text><text transform="translate(581.70,592.1) scale(0.94,1)" text-anchor="middle" font-size="24.4">0</text><text transform="translate(595.60,592.1) scale(0.94,1)" text-anchor="middle" font-size="24.4">1</text>
</g>
<rect x="144.15" y="584.45" width="9.9" height="2.05" fill="#5e5e5e"/>
<rect x="184.35" y="584.45" width="9.9" height="2.05" fill="#5e5e5e"/>
<rect x="333.75" y="584.45" width="9.9" height="2.05" fill="#5e5e5e"/>
<rect x="373.95" y="584.45" width="9.9" height="2.05" fill="#5e5e5e"/>
<rect x="523.25" y="584.45" width="9.9" height="2.05" fill="#5e5e5e"/>
<rect x="563.45" y="584.45" width="9.9" height="2.05" fill="#5e5e5e"/>
</svg>
</body></html>
